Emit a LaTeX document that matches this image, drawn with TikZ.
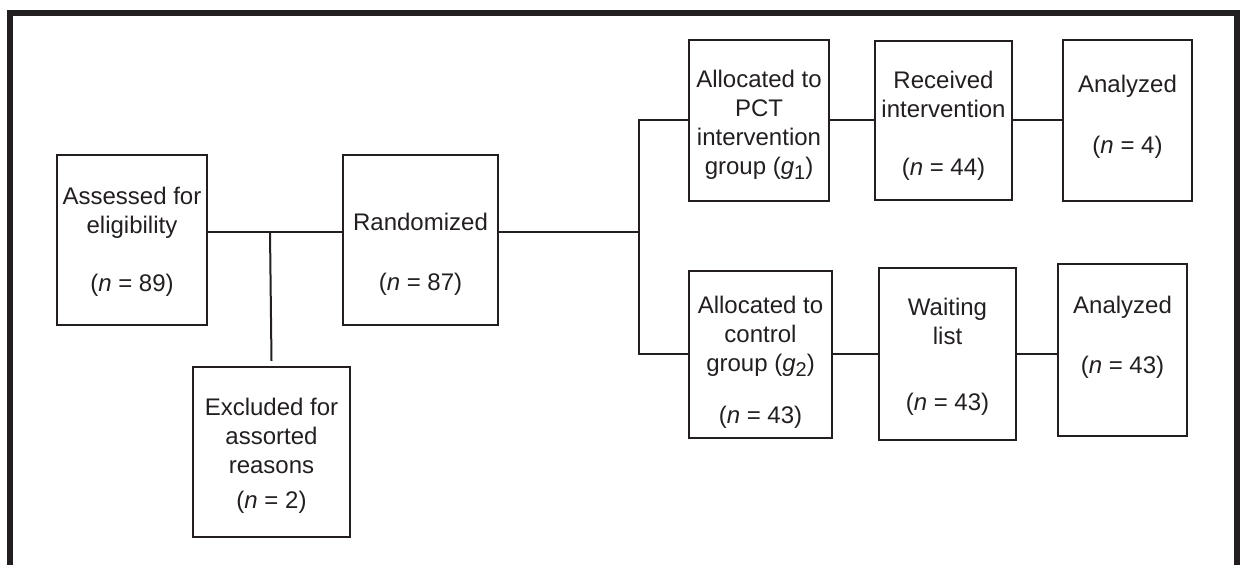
\documentclass[tikz,border=0pt]{standalone}
\usepackage{fontspec}
\setmainfont{Liberation Sans}
\usetikzlibrary{positioning}
\definecolor{ink}{RGB}{35,31,32}
\newcommand{\gsub}[1]{\textit{g}\raisebox{-2.5pt}{\fontsize{10}{10}\selectfont #1}}

\begin{document}
\begin{tikzpicture}[x=0.5pt,y=-0.5pt,color=ink,line width=1pt,
                    box/.style={rectangle,draw,align=center,inner sep=0pt,
                                font=\fontsize{12}{14.5}\selectfont}]
  \useasboundingbox (0,0) rectangle (1242,565);
  \draw[line width=2.75pt] (10,565) -- (10,13) -- (1237,13) -- (1237,565);

  \node[box,minimum width=75pt,minimum height=85pt] (assess) at (132,240)
    {\mbox{}\\[-4pt]Assessed for\\eligibility\\[14.5pt](\textit{n} = 89)};
  \node[box,minimum width=77.5pt,minimum height=85pt] (random) [right=67pt of assess]
    {\mbox{}\\[8.75pt]Randomized\\[15.5pt](\textit{n} = 87)};
  \node[box,minimum width=78.5pt,minimum height=85pt] (excl) at (271.5,452)
    {\mbox{}\\[-2pt]Excluded for\\assorted\\reasons\\[3pt](\textit{n} = 2)};

  \node[box,minimum width=70pt,minimum height=80.5pt] (alloc1) at (759,120.5)
    {\mbox{}\\[-1pt]Allocated to\\PCT\\intervention\\group (\gsub{1})};
  \node[box,minimum width=68.5pt,minimum height=79.5pt] (received) [right=22pt of alloc1]
    {\mbox{}\\[-0.5pt]Received\\intervention\\[14.5pt](\textit{n} = 44)};
  \node[box,minimum width=64.5pt,minimum height=80.5pt] (analyzed1) [right=24.5pt of received]
    {Analyzed\\[16pt](\textit{n} = 4)\\[-8.25pt]\mbox{}};

  \node[box,minimum width=71.5pt,minimum height=83.5pt] (alloc2) at (760.5,354.5)
    {\mbox{}\\[1.5pt]Allocated to\\control\\group (\gsub{2})\\[11.5pt](\textit{n} = 43)};
  \node[box,minimum width=68.5pt,minimum height=86pt] (waiting) [right=22.5pt of alloc2]
    {\mbox{}\\[-4pt]Waiting\\list\\[18.5pt](\textit{n} = 43)};
  \node[box,minimum width=64.5pt,minimum height=86pt] (analyzed2) at (1122.5,350)
    {Analyzed\\[15.5pt](\textit{n} = 43)\\[1pt]\mbox{}};

  \coordinate (split1) at (270,232);
  \coordinate (split2) at (639,232);

  \draw (assess.east |- split1) -- (random.west |- split1);
  \draw (split1) -- ([yshift=2.5pt]excl.north);
  \draw (random.east |- split2) -- (split2);
  \draw (alloc1.west) -| (split2) |- (alloc2.west);
  \path (alloc1) edge (received)
        (received) edge (analyzed1)
        (alloc2) edge (waiting);
  \draw (waiting.east) -- (waiting.east -| analyzed2.west);
\end{tikzpicture}
\end{document}
